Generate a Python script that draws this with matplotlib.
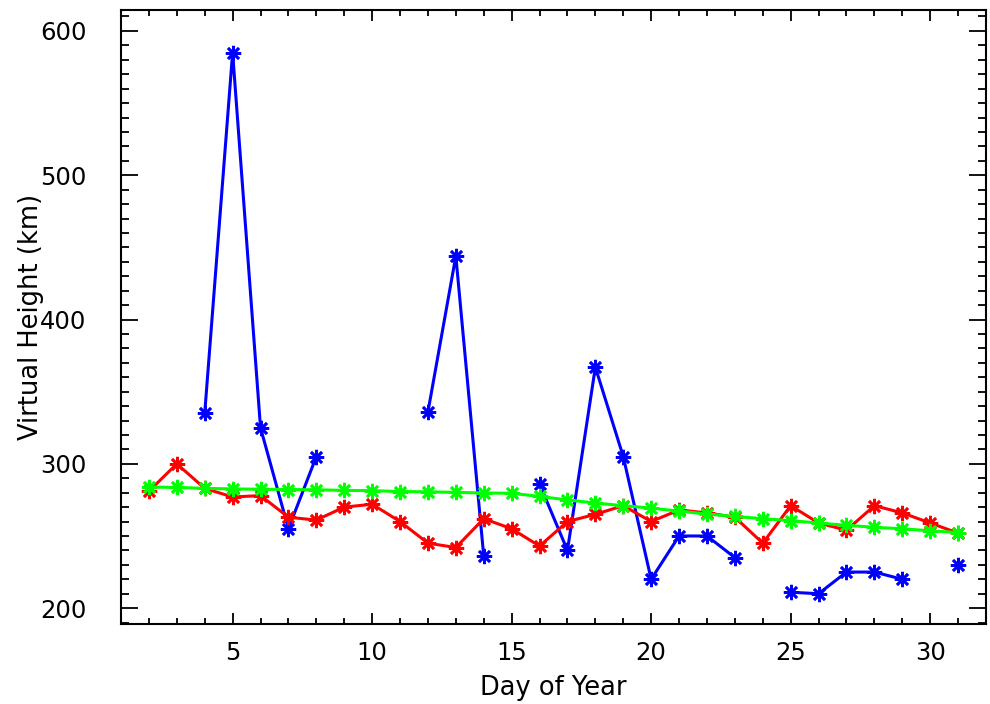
import numpy as np
import matplotlib
matplotlib.use("Agg")
import matplotlib.pyplot as plt
from matplotlib.ticker import MultipleLocator

# ==========================
# Data
# ==========================

days = list(range(2, 32))

# red series
red_vals = [281, 300, 283, 277, 278, 263, 261, 270, 272, 260,
            245, 242, 262, 255, 243, 260, 265, 271, 260, 268,
            266, 263, 245, 271, 259, 254, 271, 266, 259, 252]

# green series
green_vals = [284, 283.6, 283, 282.6, 282.4, 282.2, 282, 281.6, 281.4, 280.8,
              280.6, 280.2, 279.8, 279.6, 277.4, 275, 272.8, 271, 269.3, 267.2,
              265.2, 263.5, 262, 260.6, 259, 257.4, 256, 255, 253.6, 252.4]

# blue series (None = no value for that day)
blue_vals = [None, None, 335, 585, 325, 255, 305, None, None, None,
             336, 444, 236, None, 286, 240, 367, 305, 220, 250,
             250, 235, None, 211, 210, 225, 225, 220, None, 230]

# ==========================
# Plot
# ==========================

plt.rcParams["font.family"] = "DejaVu Sans"

fig = plt.figure(figsize=(9.9, 7.04), dpi=100)
ax = fig.add_axes([121 / 990, 80 / 704, 865 / 990, 614 / 704])

blue = np.array([np.nan if v is None else v for v in blue_vals], dtype=float)
asterisk = (8, 2, 0)
style = dict(marker=asterisk, markersize=11, markeredgewidth=1.9, linewidth=2.2)

ax.plot(days, blue, color="#0000ff", **style)
ax.plot(days, red_vals, color="#ff0000", **style)
ax.plot(days, green_vals, color="#00ff00", **style)

ax.set_xlim(1, 32)
ax.set_ylim(189, 614.5)

ax.xaxis.set_major_locator(MultipleLocator(5))
ax.xaxis.set_minor_locator(MultipleLocator(1))
ax.yaxis.set_major_locator(MultipleLocator(100))
ax.yaxis.set_minor_locator(MultipleLocator(10))

ax.tick_params(axis="both", which="both", direction="in", top=True, right=True,
               labelsize=17.5, width=1.3, colors="black")
ax.tick_params(axis="x", which="major", length=8, pad=12.5)
ax.tick_params(axis="x", which="minor", length=4.3)
ax.tick_params(axis="y", which="major", length=12, pad=25)
ax.tick_params(axis="y", which="minor", length=6)

for sp in ax.spines.values():
    sp.set_linewidth(1.5)

ax.set_xlabel("Day of Year", fontsize=18.5, labelpad=7)
ax.set_ylabel("Virtual Height (km)", fontsize=18.5, labelpad=-3)

fig.savefig("out.png", dpi=100)
plt.close(fig)
